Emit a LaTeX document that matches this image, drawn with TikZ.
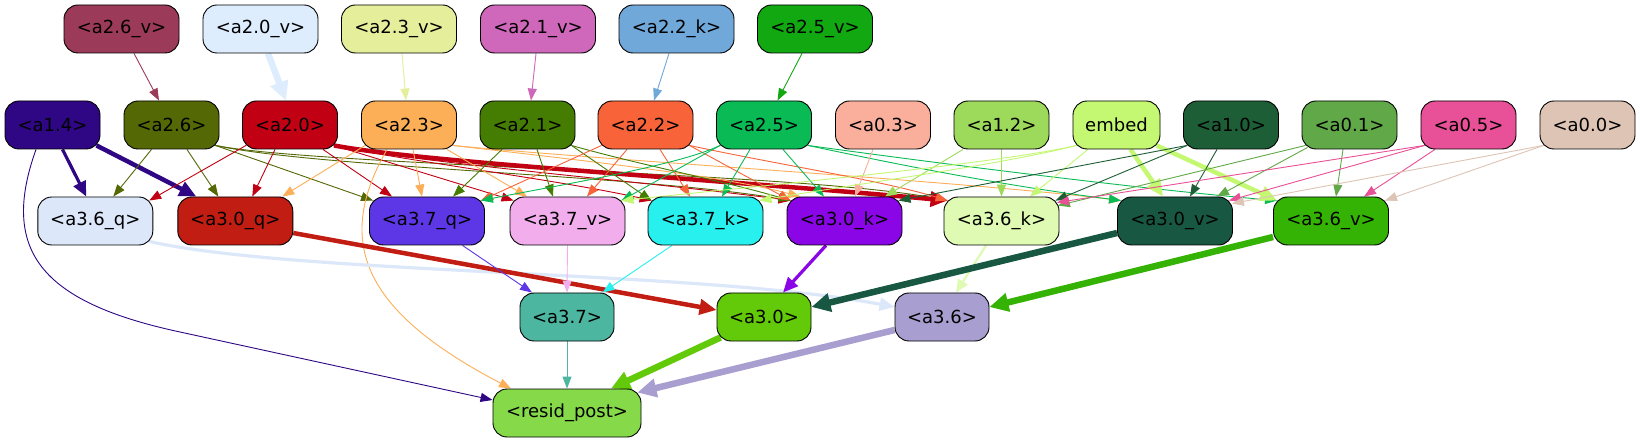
\documentclass[tikz,border=0pt]{standalone}
\usepackage{fontspec}
\setmainfont{DejaVu Sans}
\usetikzlibrary{arrows.meta}
\definecolor{c26v}{HTML}{9C3A59}
\definecolor{c20v}{HTML}{DEEDFE}
\definecolor{c23v}{HTML}{E5EE9B}
\definecolor{c21v}{HTML}{CF67BA}
\definecolor{c22k}{HTML}{71A8DA}
\definecolor{c25v}{HTML}{11A812}
\definecolor{c14}{HTML}{2F0784}
\definecolor{c26}{HTML}{546806}
\definecolor{c20}{HTML}{C20013}
\definecolor{c23}{HTML}{FDAF57}
\definecolor{c21}{HTML}{457D02}
\definecolor{c22}{HTML}{F86339}
\definecolor{c25}{HTML}{0ABB55}
\definecolor{c03}{HTML}{F9AF9C}
\definecolor{c12}{HTML}{9DD95A}
\definecolor{cemb}{HTML}{C4F872}
\definecolor{c10}{HTML}{1E5E37}
\definecolor{c01}{HTML}{61A848}
\definecolor{c05}{HTML}{E85097}
\definecolor{c00}{HTML}{DEC4B5}
\definecolor{c36q}{HTML}{DCE8FA}
\definecolor{c30q}{HTML}{C11D13}
\definecolor{c37q}{HTML}{5D37E6}
\definecolor{c37v}{HTML}{F2ADEC}
\definecolor{c37k}{HTML}{27F0EF}
\definecolor{c30k}{HTML}{8A06E6}
\definecolor{c36k}{HTML}{DFFAB2}
\definecolor{c30v}{HTML}{185843}
\definecolor{c36v}{HTML}{34B304}
\definecolor{c37}{HTML}{4CB6A0}
\definecolor{c30}{HTML}{62CA09}
\definecolor{c36}{HTML}{A89ECF}
\definecolor{cres}{HTML}{86DA4A}
\pgfdeclarelayer{bg}
\pgfdeclarelayer{edges}
\pgfsetlayers{bg,edges,main}
\tikzset{
  nd/.style={draw=black, line width=0.9pt, rounded corners=14pt, minimum height=48pt, inner sep=0pt, text=black, font=\fontsize{18}{21}\selectfont},
  wa/.style={minimum width=115pt},
  wb/.style={minimum width=95pt},
  e1/.style={line width=0.9pt, -{Triangle[length=12pt,width=9pt]}},
  e2/.style={line width=2.2pt, -{Triangle[length=13pt,width=11pt]}},
  e3/.style={line width=3.2pt, -{Triangle[length=15pt,width=13pt]}},
  e4/.style={line width=4.5pt, -{Triangle[length=17pt,width=15pt]}},
  e6/.style={line width=6.5pt, -{Triangle[length=19pt,width=18pt]}},
}
\begin{document}
\begin{tikzpicture}[x=1pt,y=-1pt]
\useasboundingbox (0,0) rectangle (1640,443);
\begin{pgfonlayer}{bg}
\fill[white] (0,0) rectangle (1640,443);
\end{pgfonlayer}
% row 1
\node[nd,wa,fill=c26v] (a26v) at (121.5,29) {<a2.6\_v>};
\node[nd,wa,fill=c20v] (a20v) at (260.5,29) {<a2.0\_v>};
\node[nd,wa,fill=c23v] (a23v) at (399,29) {<a2.3\_v>};
\node[nd,wa,fill=c21v] (a21v) at (538,29) {<a2.1\_v>};
\node[nd,wa,fill=c22k] (a22k) at (676.5,29) {<a2.2\_k>};
\node[nd,wa,fill=c25v] (a25v) at (815,29) {<a2.5\_v>};
% row 2
\node[nd,wb,fill=c14] (a14) at (52.5,125) {<a1.4>};
\node[nd,wb,fill=c26] (a26) at (171.5,125) {<a2.6>};
\node[nd,wb,fill=c20] (a20) at (290,125) {<a2.0>};
\node[nd,wb,fill=c23] (a23) at (409,125) {<a2.3>};
\node[nd,wb,fill=c21] (a21) at (527.5,125) {<a2.1>};
\node[nd,wb,fill=c22] (a22) at (645.5,125) {<a2.2>};
\node[nd,wb,fill=c25] (a25) at (764,125) {<a2.5>};
\node[nd,wb,fill=c03] (a03) at (883,125) {<a0.3>};
\node[nd,wb,fill=c12] (a12) at (1001.5,125) {<a1.2>};
\node[nd,minimum width=87pt,fill=cemb] (emb) at (1116.5,125) {embed};
\node[nd,wb,fill=c10] (a10) at (1231,125) {<a1.0>};
\node[nd,wb,fill=c01] (a01) at (1349.5,125) {<a0.1>};
\node[nd,wb,fill=c05] (a05) at (1468.5,125) {<a0.5>};
\node[nd,wb,fill=c00] (a00) at (1587.5,125) {<a0.0>};
% row 3
\node[nd,wa,fill=c36q] (a36q) at (95.3,221) {<a3.6\_q>};
\node[nd,wa,fill=c30q] (a30q) at (235.3,221) {<a3.0\_q>};
\node[nd,wa,fill=c37q] (a37q) at (427,221) {<a3.7\_q>};
\node[nd,wa,fill=c37v] (a37v) at (567.5,221) {<a3.7\_v>};
\node[nd,wa,fill=c37k] (a37k) at (705.5,221) {<a3.7\_k>};
\node[nd,wa,fill=c30k] (a30k) at (844.5,221) {<a3.0\_k>};
\node[nd,wa,fill=c36k] (a36k) at (1001.5,221) {<a3.6\_k>};
\node[nd,wa,fill=c30v] (a30v) at (1175,221) {<a3.0\_v>};
\node[nd,wa,fill=c36v] (a36v) at (1331,221) {<a3.6\_v>};
% row 4
\node[nd,minimum width=94pt,fill=c37] (a37) at (567,317) {<a3.7>};
\node[nd,minimum width=94pt,fill=c30] (a30) at (764,317) {<a3.0>};
\node[nd,minimum width=94pt,fill=c36] (a36) at (942,317) {<a3.6>};
% row 5
\node[nd,minimum width=148pt,fill=cres] (resid) at (567,413) {<resid\_post>};

\begin{pgfonlayer}{edges}
% row 1 -> row 2
\draw[e1,color=c26v] ([xshift=12.5pt]a26v.south) -- ([xshift=-12.5pt]a26.north);
\draw[e6,color=c20v] ([xshift=7.5pt]a20v.south) -- ([xshift=-4pt]a20.north);
\draw[e1,color=c23v] ([xshift=3pt]a23v.south) -- ([xshift=-3pt]a23.north);
\draw[e1,color=c21v] ([xshift=-2pt]a21v.south) -- ([xshift=3.5pt]a21.north);
\draw[e1,color=c22k] ([xshift=-7.5pt]a22k.south) -- ([xshift=8.5pt]a22.north);
\draw[e1,color=c25v] ([xshift=-13pt]a25v.south) -- ([xshift=13.5pt]a25.north);
% a1.4
\draw[e3,color=c14] ([xshift=10pt]a14.south) -- ([xshift=-9pt]a36q.north);
\draw[e4,color=c14] ([xshift=-4pt,yshift=4pt]a14.south east) -- ([xshift=-39pt]a30q.north);
\draw[e1,color=c14] ([xshift=-16.5pt]a14.south) .. controls (0,250) and (40,302) .. (180,332) -- ([yshift=13pt]resid.west);
% a2.6
\draw[e1,color=c26] ([xshift=-20pt]a26.south) -- ([xshift=18pt]a36q.north);
\draw[e1,color=c26] ([xshift=15.5pt]a26.south) -- ([xshift=-17pt]a30q.north);
\draw[e1,color=c26] ([xshift=-4pt,yshift=4pt]a26.south east) -- ([xshift=4pt,yshift=-4pt]a37q.north west);
\draw[e1,color=c26] ([xshift=-4pt,yshift=4pt]a26.south east) .. controls (320,168) and (640,175) .. ([xshift=4pt,yshift=-4pt]a30k.north west);
\draw[e1,color=c26] ([xshift=-4pt,yshift=4pt]a26.south east) .. controls (320,166) and (800,172) .. ([xshift=4pt,yshift=-4pt]a36k.north west);
% a2.0
\draw[e1,color=c20] ([xshift=4pt,yshift=4pt]a20.south west) -- ([xshift=-4pt,yshift=-4pt]a36q.north east);
\draw[e1,color=c20] ([xshift=-15pt]a20.south) -- ([xshift=17pt]a30q.north);
\draw[e1,color=c20] ([xshift=33pt]a20.south) -- ([xshift=-35pt]a37q.north);
\draw[e1,color=c20] ([xshift=-4pt,yshift=4pt]a20.south east) -- ([xshift=4pt,yshift=-4pt]a37v.north west);
\draw[e1,color=c20] ([xshift=-4pt,yshift=4pt]a20.south east) .. controls (400,160) and (560,180) .. ([xshift=4pt,yshift=-4pt]a37k.north west);
\draw[e1,color=c20] ([xshift=-4pt,yshift=4pt]a20.south east) .. controls (410,162) and (650,182) .. ([xshift=4pt,yshift=-4pt]a30k.north west);
\draw[e4,color=c20] ([xshift=-4pt,yshift=4pt]a20.south east) .. controls (420,162) and (700,178) .. ([xshift=4pt,yshift=-4pt]a36k.north west);
% a2.3
\draw[e1,color=c23] ([xshift=4pt,yshift=4pt]a23.south west) -- ([xshift=47pt]a30q.north);
\draw[e1,color=c23] ([xshift=4pt]a23.south) -- ([xshift=-5pt]a37q.north);
\draw[e1,color=c23] ([xshift=-22pt]a23.south) .. controls (335,240) and (360,310) .. ([xshift=-56pt]resid.north);
\draw[e1,color=c23] ([xshift=38pt]a23.south) -- ([xshift=-40.5pt]a37v.north);
\draw[e1,color=c23] ([xshift=-4pt,yshift=4pt]a23.south east) .. controls (560,158) and (720,175) .. ([xshift=-44.5pt]a30k.north);
\draw[e1,color=c23] ([xshift=-4pt,yshift=4pt]a23.south east) .. controls (600,160) and (950,180) .. ([xshift=4pt,yshift=-4pt]a30v.north west);
% a2.1
\draw[e1,color=c21] ([xshift=-25.5pt]a21.south) -- ([xshift=26pt]a37q.north);
\draw[e1,color=c21] ([xshift=9.5pt]a21.south) -- ([xshift=-14.5pt]a37v.north);
\draw[e1,color=c21] ([xshift=-4pt,yshift=4pt]a21.south east) -- ([xshift=4pt,yshift=-4pt]a37k.north west);
\draw[e1,color=c21] ([xshift=-4pt,yshift=4pt]a21.south east) .. controls (640,165) and (720,180) .. ([xshift=4pt,yshift=-4pt]a30k.north west);
% a2.2
\draw[e1,color=c22] ([xshift=4pt,yshift=4pt]a22.south west) -- ([xshift=-4pt,yshift=-4pt]a37q.north east);
\draw[e1,color=c22] ([xshift=-18.5pt]a22.south) -- ([xshift=19.5pt]a37v.north);
\draw[e1,color=c22] ([xshift=14.5pt]a22.south) -- ([xshift=-15.5pt]a37k.north);
\draw[e1,color=c22] ([xshift=-4pt,yshift=4pt]a22.south east) -- ([xshift=4pt,yshift=-4pt]a30k.north west);
\draw[e1,color=c22] ([xshift=-4pt,yshift=4pt]a22.south east) .. controls (780,165) and (880,180) .. ([xshift=4pt,yshift=-4pt]a36k.north west);
% a2.5
\draw[e1,color=c25] ([xshift=4pt,yshift=4pt]a25.south west) .. controls (680,165) and (560,185) .. ([xshift=-4pt,yshift=-4pt]a37q.north east);
\draw[e1,color=c25] ([xshift=4pt,yshift=4pt]a25.south west) -- ([xshift=-4pt,yshift=-4pt]a37v.north east);
\draw[e1,color=c25] ([xshift=-14pt]a25.south) -- ([xshift=16.5pt]a37k.north);
\draw[e1,color=c25] ([xshift=19pt]a25.south) -- ([xshift=-20.5pt]a30k.north);
\draw[e1,color=c25] ([xshift=-4pt,yshift=4pt]a25.south east) .. controls (900,165) and (1000,185) .. ([xshift=4pt,yshift=-4pt]a30v.north west);
\draw[e1,color=c25] ([xshift=-4pt,yshift=4pt]a25.south east) .. controls (950,165) and (1150,190) .. ([xshift=4pt,yshift=-4pt]a36v.north west);
% a0.3, a1.2
\draw[e1,color=c03] ([xshift=-10pt]a03.south) -- ([xshift=10.5pt]a30k.north);
\draw[e1,color=c12] ([xshift=-38.5pt]a12.south) -- ([xshift=40.5pt]a30k.north);
\draw[e1,color=c12] (a12.south) -- (a36k.north);
% embed
\draw[e1,color=cemb] ([xshift=4pt,yshift=4pt]emb.south west) .. controls (1000,163) and (800,182) .. ([xshift=-4pt,yshift=-4pt]a37v.north east);
\draw[e1,color=cemb] ([xshift=4pt,yshift=4pt]emb.south west) .. controls (1000,165) and (850,185) .. ([xshift=-4pt,yshift=-4pt]a37k.north east);
\draw[e1,color=cemb] ([xshift=-28.5pt]emb.south) -- ([xshift=28.5pt]a36k.north);
\draw[e4,color=cemb] ([xshift=14pt]emb.south) -- ([xshift=-12pt]a30v.north);
\draw[e4,color=cemb] ([xshift=-4pt,yshift=4pt]emb.south east) -- ([xshift=4pt,yshift=-4pt]a36v.north west);
% a1.0
\draw[e1,color=c10] ([xshift=4pt,yshift=4pt]a10.south west) -- ([xshift=-4pt,yshift=-4pt]a30k.north east);
\draw[e1,color=c10] ([xshift=4pt,yshift=4pt]a10.south west) -- ([xshift=-4pt,yshift=-4pt]a36k.north east);
\draw[e1,color=c10] ([xshift=-14pt]a10.south) -- ([xshift=15pt]a30v.north);
% a0.1
\draw[e1,color=c01] ([xshift=4pt,yshift=4pt]a01.south west) -- ([xshift=-1.5pt,yshift=-9pt]a36k.north east);
\draw[e1,color=c01] ([xshift=6pt,yshift=2pt]a01.south west) -- ([xshift=42pt]a30v.north);
\draw[e1,color=c01] ([xshift=-6.5pt]a01.south) -- ([xshift=5pt]a36v.north);
% a0.5
\draw[e1,color=c05] ([xshift=4pt,yshift=4pt]a05.south west) -- ([xshift=-2.5pt,yshift=-6pt]a36k.north east);
\draw[e1,color=c05] ([xshift=4pt,yshift=4pt]a05.south west) -- ([xshift=-4pt,yshift=-4pt]a30v.north east);
\draw[e1,color=c05] ([xshift=-33.5pt]a05.south) -- ([xshift=33pt]a36v.north);
% a0.0
\draw[e1,color=c00] ([xshift=4pt,yshift=4pt]a00.south west) -- ([xshift=-1pt,yshift=-7pt]a30v.north east);
\draw[e1,color=c00] ([xshift=4pt,yshift=4pt]a00.south west) -- ([xshift=-4pt,yshift=-4pt]a36v.north east);
% row 3 -> row 4
\draw[e3,color=c36q] ([xshift=-4pt,yshift=4pt]a36q.south east) .. controls (300,275) and (700,270) .. ([yshift=10pt]a36.west);
\draw[e4,color=c30q] ([yshift=-12pt]a30q.east) -- ([yshift=7pt]a30.west);
\draw[e1,color=c37q] ([xshift=35.5pt]a37q.south) -- ([xshift=-35pt]a37.north);
\draw[e1,color=c37v] (a37v.south) -- (a37.north);
\draw[e1,color=c37k] ([xshift=-33.5pt]a37k.south) -- ([xshift=35.5pt]a37.north);
\draw[e3,color=c30k] ([xshift=-18.5pt]a30k.south) -- ([xshift=19pt]a30.north);
\draw[e2,color=c36k] ([xshift=-15.5pt]a36k.south) -- ([xshift=14pt]a36.north);
\draw[e6,color=c30v] ([yshift=-12pt]a30v.west) -- ([yshift=10pt]a30.east);
\draw[e6,color=c36v] ([yshift=-16pt]a36v.west) -- ([yshift=10pt]a36.east);
% row 4 -> row 5
\draw[e1,color=c37] (a37.south) -- (resid.north);
\draw[e6,color=c30] ([xshift=4pt,yshift=4pt]a30.south west) -- ([xshift=44pt]resid.north);
\draw[e6,color=c36] ([yshift=-13pt]a36.west) -- ([xshift=-4pt,yshift=-4pt]resid.north east);
\end{pgfonlayer}
\end{tikzpicture}
\end{document}
